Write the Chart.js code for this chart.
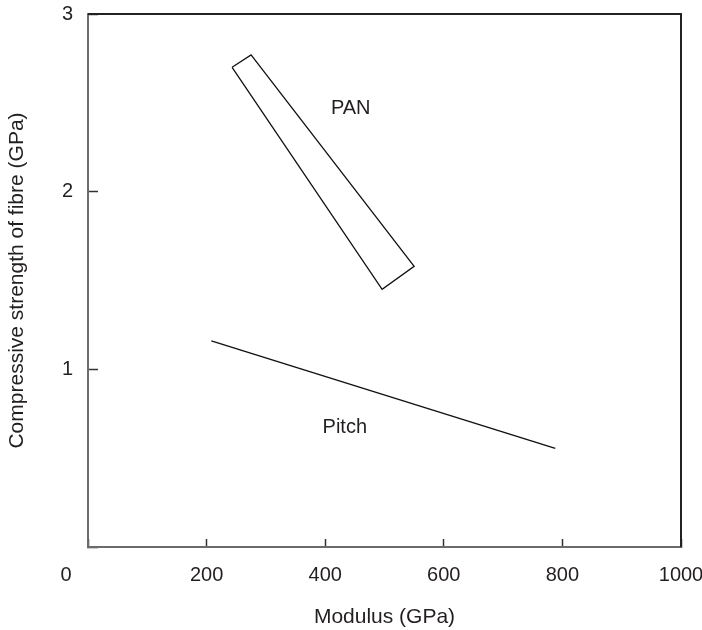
<!DOCTYPE html>
<html>
<head>
<meta charset="utf-8">
<script src="https://cdn.jsdelivr.net/npm/chart.js@4"></script>
<style>
  html, body { margin: 0; padding: 0; background: #fff; }
  #wrap { width: 702px; height: 630px; }
</style>
</head>
<body>
<div id="wrap"><canvas id="fibreChart"></canvas></div>
<script>
// Data
const xTicks = [0, 200, 400, 600, 800, 1000];
const yTicks = [0, 1, 2, 3];

// PAN band (closed outline)
const panModulus = [243, 275, 550, 496, 243];
const panStrength = [2.70, 2.77, 1.58, 1.45, 2.70];

// Pitch line
const pitchModulus = [208, 788];
const pitchStrength = [1.16, 0.555];

// Text labels inside the plot (data coordinates)
const regionNames = ['PAN', 'Pitch'];
const regionX = [443, 433];
const regionY = [2.435, 0.64];

const FONT = "'Liberation Sans', Arial, Helvetica, sans-serif";
const TEXT = '#231f20';

const toPoints = (xs, ys) => xs.map((x, i) => ({ x: x, y: ys[i] }));

// frame (top/right), corner "0" and region names
const extrasPlugin = {
  id: 'extras',
  afterDraw(chart) {
    const ctx = chart.ctx;
    const a = chart.chartArea;
    const xs = chart.scales.x;
    const ys = chart.scales.y;
    ctx.save();
    ctx.strokeStyle = '#222';
    ctx.lineWidth = 2;
    ctx.beginPath();
    ctx.moveTo(a.left, a.top);
    ctx.lineTo(a.right, a.top);
    ctx.lineTo(a.right, a.bottom);
    ctx.stroke();

    ctx.fillStyle = TEXT;
    ctx.font = '20px ' + FONT;
    ctx.textAlign = 'center';
    ctx.textBaseline = 'middle';
    ctx.fillText('0', a.left - 22, a.bottom + 28);

    ctx.textBaseline = 'alphabetic';
    regionNames.forEach((name, i) => {
      ctx.fillText(name, xs.getPixelForValue(regionX[i]), ys.getPixelForValue(regionY[i]));
    });
    ctx.restore();
  }
};

const ctx = document.getElementById('fibreChart').getContext('2d');
new Chart(ctx, {
  type: 'scatter',
  data: {
    datasets: [{
      label: 'PAN',
      data: toPoints(panModulus, panStrength),
      showLine: true,
      borderColor: '#111',
      borderWidth: 1.3,
      pointRadius: 0,
      fill: false,
      tension: 0,
    }, {
      label: 'Pitch',
      data: toPoints(pitchModulus, pitchStrength),
      showLine: true,
      borderColor: '#111',
      borderWidth: 1.5,
      pointRadius: 0,
      fill: false,
      tension: 0,
    }],
  },
  options: {
    responsive: true,
    maintainAspectRatio: false,
    animation: false,
    layout: { padding: { top: 14, right: 21, bottom: 0, left: 0 } },
    plugins: {
      legend: { display: false },
      tooltip: { enabled: false },
    },
    scales: {
      x: {
        type: 'linear',
        min: 0,
        max: 1000,
        afterBuildTicks: s => { s.ticks = xTicks.map(v => ({ value: v })); },
        afterFit: s => { s.height = 83; s.paddingLeft = 0; s.paddingRight = 0; },
        border: { display: true, color: '#6b6b6b', width: 2 },
        grid: { drawOnChartArea: false, drawTicks: true, tickLength: -8, color: '#333', tickWidth: 1.5 },
        ticks: {
          padding: 24,
          color: TEXT,
          font: { family: FONT, size: 20 },
          maxRotation: 0,
          callback: v => (v === 0 ? '' : v),
        },
        title: {
          display: true,
          text: 'Modulus (GPa)',
          color: TEXT,
          font: { family: FONT, size: 21 },
          padding: { top: 0, bottom: 0 },
        },
      },
      y: {
        type: 'linear',
        min: 0,
        max: 3,
        afterBuildTicks: s => { s.ticks = yTicks.map(v => ({ value: v })); },
        afterFit: s => { s.width = 88; s.paddingTop = 0; s.paddingBottom = 0; },
        border: { display: true, color: '#6b6b6b', width: 2 },
        grid: { drawOnChartArea: false, drawTicks: true, tickLength: -10, color: '#333', tickWidth: 1.5 },
        ticks: {
          padding: 25,
          color: TEXT,
          font: { family: FONT, size: 20 },
          callback: v => (v === 0 ? '' : v),
        },
        title: {
          display: true,
          text: 'Compressive strength of fibre (GPa)',
          color: TEXT,
          font: { family: FONT, size: 21 },
          padding: { top: 4.5, bottom: 0 },
        },
      },
    },
  },
  plugins: [extrasPlugin],
});
</script>
</body>
</html>
